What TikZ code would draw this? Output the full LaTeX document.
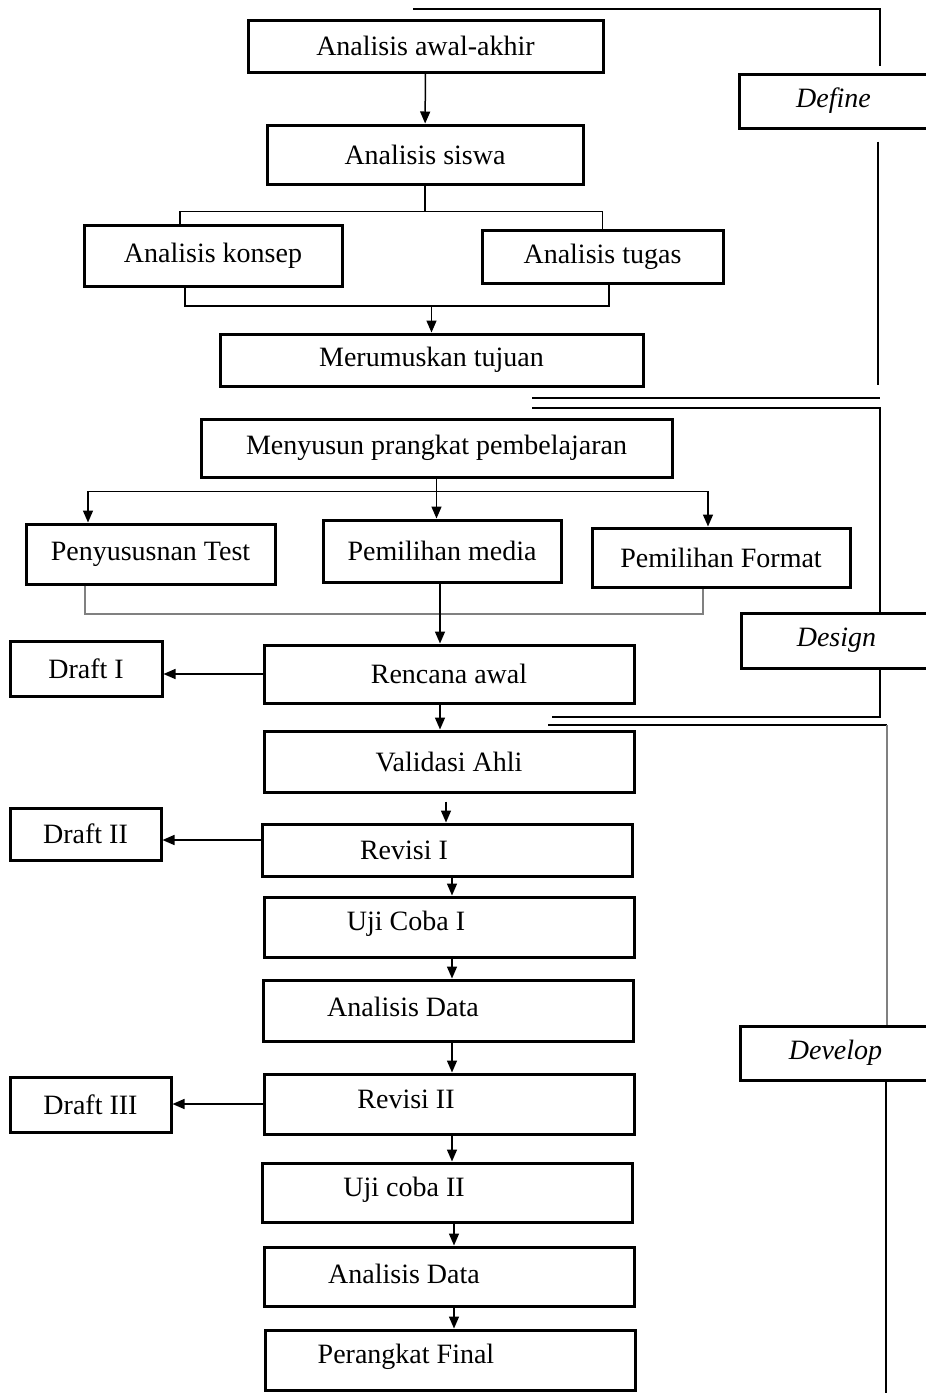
\documentclass[tikz,border=0pt]{standalone}
\usepackage{fontspec}
\setmainfont{Liberation Serif}
\usetikzlibrary{arrows.meta}
\begin{document}
\begin{tikzpicture}[x=1pt, y=-1pt, >={Triangle[length=12pt,width=10pt]}, font=\fontsize{28}{32}\selectfont]
    \tikzstyle{box}=[draw, line width=3pt, inner sep=0pt]
    \tikzstyle{phase}=[draw, line width=3pt, inner sep=0pt, minimum width=240, anchor=west]
    \tikzstyle{con}=[line width=1.5pt]
    \tikzstyle{pale}=[line width=2pt, gray]
    \useasboundingbox (0,0) rectangle (926,1393);

    % define
    \node [box, minimum width=355, minimum height=52] (awal) at (425.5,46) {Analisis awal-akhir};
    \node [box, minimum width=316, minimum height=59] (siswa) at (425,154.5) {Analisis siswa};
    \node [box, minimum width=258, minimum height=61] (konsep) at (213,255.5) {Analisis konsep};
    \node [box, minimum width=241, minimum height=53] (tugas) at (602.5,256.5) {Analisis tugas};
    \node [box, minimum width=423, minimum height=52] (tujuan) at (431.5,360) {Merumuskan tujuan};

    % design
    \node [box, minimum width=471, minimum height=58] (susun) at (436.5,448) {Menyusun prangkat pembelajaran};
    \node [box, minimum width=249, minimum height=60] (test) at (150.5,554) {Penyususnan Test};
    \node [box, minimum width=238, minimum height=62] (media) at (442,551) {Pemilihan media};
    \node [box, minimum width=258, minimum height=59] (format) at (721,557.5) {Pemilihan Format};
    \node [box, minimum width=370, minimum height=58] (rencana) at (449,674) {Rencana awal};
    \node [box, minimum width=152, minimum height=55] (draft1) at (86,668.5) {Draft I};

    % develop
    \node [box, minimum width=370, minimum height=61] (valid) at (449,761.5) {Validasi Ahli};
    \node [box, minimum width=370, minimum height=52, label={[xshift=-43]center:Revisi I}] (revisi1) at (447,850) {};
    \node [box, minimum width=151, minimum height=52] (draft2) at (85.5,834) {Draft II};
    \node [box, minimum width=370, minimum height=60, label={[xshift=-43,yshift=3]center:Uji Coba I}] (uji1) at (449,927) {};
    \node [box, minimum width=370, minimum height=61, label={[xshift=-45,yshift=4]center:Analisis Data}] (data1) at (448,1010.5) {};
    \node [box, minimum width=370, minimum height=60, label={[xshift=-43,yshift=5]center:Revisi II}] (revisi2) at (449,1104) {};
    \node [box, minimum width=161, minimum height=55] (draft3) at (90.5,1104.5) {Draft III};
    \node [box, minimum width=370, minimum height=59, label={[xshift=-43,yshift=3]center:Uji coba II}] (uji2) at (447,1192.5) {};
    \node [box, minimum width=370, minimum height=59, label={[xshift=-45,yshift=3]center:Analisis Data}] (data2) at (449,1276.5) {};
    \node [box, minimum width=370, minimum height=60, label={[xshift=-44,yshift=3]center:Perangkat Final}] (final) at (450,1360) {};

    % phases
    \node [phase, minimum height=54, label={[xshift=-26]center:\textit{Define}}] (define) at (738,101) {};
    \node [phase, minimum height=55, label={[xshift=-25]center:\textit{Design}}] (design) at (740,640.5) {};
    \node [phase, minimum height=54, label={[xshift=-25]center:\textit{Develop}}] (develop) at (739,1053) {};

    % draw lines
    \coordinate (ax) at (452,0);
    \coordinate (bx) at (454,0);
    \coordinate (dy) at (0,840);

    \draw [con,->] (awal) -- (siswa);
    \draw [con] (siswa.south) -- ++(0,26) coordinate (split1);
    \draw [con] (konsep.north -| 180,0) |- (split1) -| (tugas.north);
    \draw [con] (konsep.south -| 185,0) -- (185,306) coordinate (join1) -- (609,306) -- (tugas.south -| 609,0);
    \draw [con,->] (join1 -| tujuan) -- (tujuan.north);

    \draw [con] (susun.south) -- ++(0,13) coordinate (split2);
    \draw [con,->] (split2) -| (test.north -| 88,0);
    \draw [con,->] (split2) -| (format.north -| 708,0);
    \draw [con,->] (split2) -- (media.north -| split2);
    \draw [pale] (test.south -| 85,0) |- (703,614) -- (format.south -| 703,0);
    \draw [con,->] (media.south -| 440,0) -- (rencana.north -| 440,0);
    \draw [con,->] (rencana.west) -- (draft1.east |- rencana.west);
    \draw [con,->] (rencana.south -| 440,0) -- (valid.north -| 440,0);
    \draw [con,->] ([yshift=-8]valid.south -| 446,0) -- (revisi1.north -| 446,0);
    \draw [con,->] (revisi1.west |- dy) -- (draft2.east |- dy);
    \draw [con,->] (revisi2.west) -- (draft3.east |- revisi2.west);

    \foreach \a/\b in {revisi1/uji1, uji1/data1, data1/revisi2, revisi2/uji2}
    \draw [con,->] (\a.south -| ax) -- (\b.north -| ax);
    \foreach \a/\b in {uji2/data2, data2/final}
    \draw [con,->] (\a.south -| bx) -- (\b.north -| bx);

    % phase brackets
    \draw [con] (413,9) -- (880,9) -- (880,66);
    \draw [con] (define.south -| 878,0) ++(0,12) -- (878,385);
    \draw [con] (532,398) -- (880,398);
    \draw [con] (532,408) -- (880,408) -- (design.north -| 880,0);
    \draw [con] (design.south -| 880,0) -- (880,717) -- (552,717);
    \draw [con] (548,725) -- (887,725);
    \draw [pale] (887,725) -- (develop.north -| 887,0);
    \draw [con] (develop.south -| 886,0) -- (886,1393);
\end{tikzpicture}
\end{document}
